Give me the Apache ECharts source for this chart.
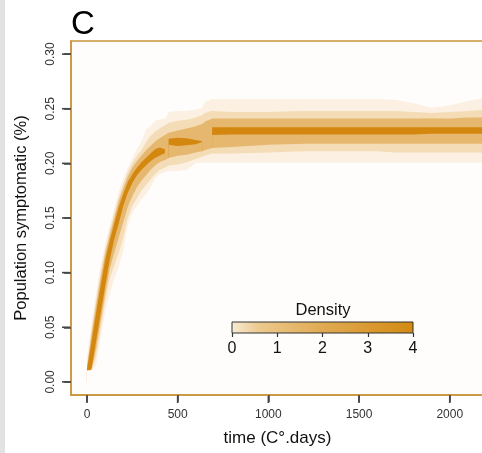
<!DOCTYPE html>
<html><head><meta charset="utf-8">
<script src="https://cdn.jsdelivr.net/npm/echarts@6/dist/echarts.min.js"></script>
<style>html,body{margin:0;padding:0;background:#fff}#c{width:482px;height:453px}</style>
</head><body><div id="c"></div>
<script>
// time points (C°.days)
const time = [0,25,50,75,100,125,150,175,200,225,250,275,300,325,350,375,400,430,440,450,500,550,600,635,650,690,700,800,1000,1200,1400,1600,1700,1800,1900,2000,2100,2200,2300];
// density band boundaries (population symptomatic, fraction)
const outerHi = [0.023,0.053,0.081,0.106,0.126,0.143,0.158,0.174,0.186,0.196,0.205,0.213,0.220,0.231,0.234,0.239,0.240,0.241,0.243,0.247,0.248,0.248,0.249,0.251,0.256,0.259,0.259,0.259,0.259,0.259,0.259,0.259,0.258,0.255,0.251,0.253,0.257,0.260,0.261];
const midHi   = [0.016,0.047,0.075,0.100,0.121,0.138,0.154,0.169,0.181,0.192,0.200,0.207,0.212,0.219,0.225,0.229,0.232,0.235,0.236,0.237,0.239,0.240,0.242,0.244,0.246,0.248,0.247,0.247,0.247,0.248,0.248,0.248,0.248,0.247,0.246,0.247,0.248,0.249,0.249];
const innerHi = [0.013,0.043,0.070,0.095,0.117,0.134,0.150,0.165,0.177,0.188,0.196,0.202,0.207,0.212,0.216,0.220,0.223,0.226,0.227,0.228,0.230,0.232,0.234,0.236,0.238,0.241,0.241,0.241,0.241,0.241,0.241,0.241,0.241,0.241,0.241,0.241,0.242,0.242,0.242];
const medHi   = [0.0115,0.037,0.063,0.088,0.111,0.129,0.145,0.160,0.172,0.183,0.190,0.196,0.201,0.205,0.209,0.213,0.2145,0.213,null,0.2225,0.2235,0.223,0.2215,0.2202,null,0.233,0.2335,0.233,0.233,0.233,0.233,0.233,0.233,0.233,0.233,0.233,0.233,0.233,0.233];
const medLo   = [0.0103,0.0115,0.037,0.062,0.087,0.111,0.130,0.145,0.161,0.173,0.182,0.189,0.194,0.198,0.202,0.205,0.207,0.2095,null,0.217,0.216,0.2165,0.2175,0.2195,null,0.226,0.226,0.2265,0.2265,0.2265,0.2265,0.2265,0.2265,0.2265,0.227,0.227,0.227,0.227,0.227];
const innerLo = [0.0103,0.0108,0.030,0.055,0.080,0.103,0.118,0.132,0.146,0.160,0.170,0.178,0.184,0.189,0.194,0.198,0.201,0.203,0.204,0.205,0.207,0.208,0.210,0.211,0.212,0.214,0.214,0.215,0.217,0.218,0.218,0.218,0.218,0.218,0.218,0.218,0.218,0.218,0.218];
const midLo   = [0.0103,0.0105,0.023,0.048,0.073,0.094,0.106,0.118,0.132,0.150,0.161,0.168,0.175,0.180,0.185,0.190,0.194,0.196,0.197,0.198,0.199,0.201,0.204,0.206,0.207,0.209,0.209,0.209,0.210,0.211,0.211,0.211,0.210,0.210,0.210,0.210,0.210,0.210,0.210];
const outerLo = [0.0103,0.0103,0.015,0.040,0.064,0.080,0.094,0.105,0.120,0.143,0.155,0.161,0.167,0.172,0.178,0.186,0.190,0.192,0.192,0.193,0.193,0.194,0.2005,0.2005,0.2005,0.2005,0.2005,0.2005,0.2005,0.2005,0.2005,0.2005,0.2005,0.2005,0.2005,0.2005,0.2005,0.2005,0.2005];

const xTicks = [0,500,1000,1500,2000];
const yTicks = [0,0.05,0.10,0.15,0.20,0.25,0.30];
const densityTicks = [0,1,2,3,4];

const bg = '#fefdfb';
const border = '#c9933b';
const cPale = '#fbf0e1', cSecond = '#f4dcb6', cThird = '#e6b86f', cDark = '#d4870e';

// painter's order: each boundary fills down to 0, later ones cover earlier ones
const layers = [
  [outerHi, cPale], [midHi, cSecond], [innerHi, cThird], [medHi, cDark],
  [medLo, cThird], [innerLo, cSecond], [midLo, cPale], [outerLo, bg]
];
const pair = arr => time.map((t, i) => [t, arr[i]]);

const series = layers.map(([arr, col], i) => ({
  type: 'line', xAxisIndex: 0, yAxisIndex: 0, data: pair(arr),
  symbol: 'none', showSymbol: false, connectNulls: false, silent: true,
  lineStyle: { opacity: 0, width: 0 },
  areaStyle: { color: col, opacity: 1 },
  z: 2 + i, animation: false
}));

const chart = echarts.init(document.getElementById('c'), null, { renderer: 'canvas' });
chart.setOption({
  animation: false,
  backgroundColor: '#ffffff',
  textStyle: { fontFamily: 'Liberation Sans, Arial, sans-serif' },
  grid: [
    { left: 71, top: 41, width: 431, bottom: 58, show: true, backgroundColor: bg,
      outerBoundsMode: 'none', containLabel: false,
      borderColor: border, borderWidth: 1.5 },
    { left: 232, top: 322, width: 181, height: 11, show: true, borderColor: '#333', borderWidth: 1, z: 30,
      outerBoundsMode: 'none', containLabel: false,
      backgroundColor: new echarts.graphic.LinearGradient(0, 0, 1, 0, [
        { offset: 0, color: '#f7ecd5' }, { offset: 0.15, color: '#ecc98e' }, { offset: 0.5, color: '#e0aa52' }, { offset: 1, color: '#d38a12' }]) }
  ],
  xAxis: [
    { type: 'value', gridIndex: 0, min: -88, max: 2288, z: 20, position: 'bottom',
      name: 'time (C°.days)', nameLocation: 'middle', nameGap: 35,
      nameTextStyle: { fontSize: 17, color: '#111', padding: [0, 18, 0, 0] },
      axisLine: { show: true, onZero: false, lineStyle: { color: border, width: 1.5 } }, splitLine: { show: false },
      axisTick: { show: true, inside: false, length: 7, lineStyle: { color: '#444', width: 1.5 }, customValues: xTicks },
      axisLabel: { fontSize: 12, color: '#333', margin: 14, customValues: xTicks, formatter: v => String(v) } },
    { type: 'value', gridIndex: 1, min: 0, max: 4, interval: 1, z: 31,
      axisLine: { show: false, onZero: false }, splitLine: { show: false },
      axisTick: { show: true, inside: false, length: 4, lineStyle: { color: '#333', width: 1.2 } },
      axisLabel: { fontSize: 16, color: '#111', margin: 8, formatter: v => String(v) } }
  ],
  yAxis: [
    { type: 'value', gridIndex: 0, min: -0.012, max: 0.312, z: 20, position: 'left',
      name: 'Population symptomatic (%)', nameLocation: 'middle', nameGap: 41,
      nameTextStyle: { fontSize: 16.5, color: '#111' },
      axisLine: { show: true, onZero: false, lineStyle: { color: border, width: 1.5 } }, splitLine: { show: false },
      axisTick: { show: true, inside: false, length: 7, lineStyle: { color: '#444', width: 1.5 }, customValues: yTicks },
      axisLabel: { fontSize: 12, color: '#333', rotate: 90, margin: 14, customValues: yTicks, formatter: v => v.toFixed(2) } },
    { type: 'value', gridIndex: 1, min: 0, max: 1, show: false }
  ],
  graphic: [
    { id: 'strip', type: 'rect', left: 0, top: 0, z: 40, shape: { width: 5, height: 453 }, style: { fill: '#e2e2e2' }, silent: true },
    { id: 'panel', type: 'text', x: 71, y: 25, z: 40, style: { text: 'C', fontSize: 33, fill: '#000', verticalAlign: 'middle', fontFamily: 'Liberation Sans, Arial, sans-serif' } },
    { id: 'dens', type: 'text', x: 323, y: 310, z: 40, style: { text: 'Density', fontSize: 16.5, fill: '#111', align: 'center', verticalAlign: 'middle', fontFamily: 'Liberation Sans, Arial, sans-serif' } }
  ],
  series: series
});

// explicit outside tick marks, positioned through the chart's own scales
try {
  const tickEls = [];
  yTicks.forEach((v, i) => {
    const py = chart.convertToPixel({ yAxisIndex: 0 }, v);
    tickEls.push({ id: 'yt' + i, type: 'line', z: 41, silent: true,
      shape: { x1: 62, y1: py, x2: 70, y2: py }, style: { stroke: '#444', lineWidth: 1.6 } });
  });
  xTicks.forEach((v, i) => {
    const px = chart.convertToPixel({ xAxisIndex: 0 }, v);
    tickEls.push({ id: 'xt' + i, type: 'line', z: 41, silent: true,
      shape: { x1: px, y1: 396, x2: px, y2: 403 }, style: { stroke: '#444', lineWidth: 1.6 } });
  });
  chart.setOption({ graphic: tickEls });
} catch (e) {}
</script>
</body></html>
